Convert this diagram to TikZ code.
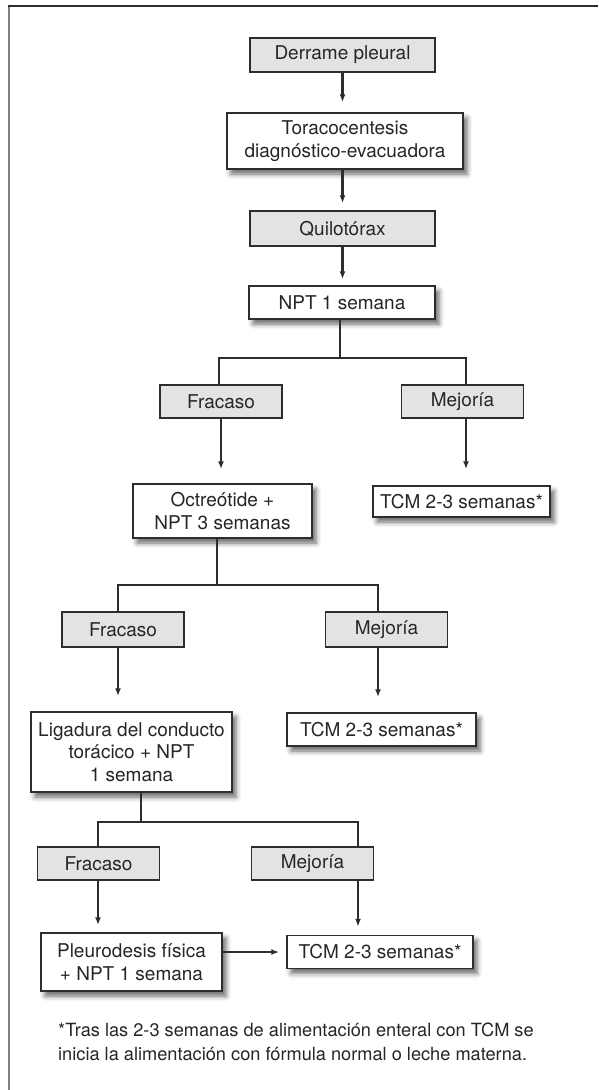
\documentclass[tikz,border=0pt]{standalone}
\usepackage{fontspec}
\setmainfont{TeX Gyre Heros}
\usetikzlibrary{arrows.meta,shadows.blur}
\definecolor{boxgray}{RGB}{227,227,227}
\definecolor{edgegray}{RGB}{45,45,45}

\begin{document}
\begin{tikzpicture}[x=1pt, y=-1pt, >={Latex[length=8pt,width=6pt]},
    box/.style={draw=edgegray, line width=1.5pt, inner sep=0pt, align=center,
        font=\fontsize{19}{22.5}\selectfont, text=black!85},
    graybox/.style={box, fill=boxgray, minimum width=122pt, minimum height=33pt},
    whitebox/.style={box, fill=white, blur shadow={shadow xshift=4pt,
        shadow yshift=-5pt, shadow blur radius=5pt, shadow opacity=60}},
    arr/.style={->, line width=2.4pt, draw=edgegray, shorten >=10pt},
    trunk/.style={line width=2.4pt, draw=edgegray},
    link/.style={line width=1.2pt, draw=edgegray}]
    \useasboundingbox (0,0) rectangle (598,1090);

    % frame
    \draw[line width=2.4pt, gray] (9,6) -- (9,1090);
    \draw[line width=1.8pt, edgegray] (8,6) -- (598,6);

    % main column
    \node[graybox, minimum width=185pt, minimum height=34pt] (derrame) at (342.5,55) {Derrame pleural};
    \node[whitebox, minimum width=236pt, minimum height=56pt] (toraco) at (345,141) {Toracocentesis\\diagnóstico-evacuadora};
    \node[graybox, minimum width=185pt, minimum height=35pt] (quilo) at (342.5,228.5) {Quilotórax};
    \node[whitebox, minimum width=186pt, minimum height=33pt] (npt) at (342,302.5) {NPT 1 semana};

    % first split
    \node[graybox] (fracA) at (221,401.5) {Fracaso};
    \node[graybox] (mejA) at (462.5,401.5) {Mejoría};
    \node[whitebox, minimum width=179pt, minimum height=54pt] (octreo) at (222.5,511) {Octreótide +\\NPT 3 semanas};
    \node[whitebox, minimum width=177pt, minimum height=31pt] (tcmA) at (461.5,501.5) {TCM 2-3 semanas*};

    % second split
    \node[graybox, minimum height=35pt] (fracB) at (123,629.5) {Fracaso};
    \node[graybox, minimum height=35pt] (mejB) at (386.5,629.5) {Mejoría};
    \node[whitebox, minimum width=201pt, minimum height=80pt] (ligad) at (131.5,752) {Ligadura del conducto\\torácico + NPT\\1 semana};
    \node[whitebox, minimum width=189pt, minimum height=33pt] (tcmB) at (381.5,729.5) {TCM 2-3 semanas*};

    % third split
    \node[graybox] (fracC) at (98.5,863.5) {Fracaso};
    \node[graybox] (mejC) at (312.5,863.5) {Mejoría};
    \node[whitebox, minimum width=181pt, minimum height=58pt] (pleuro) at (131.5,962) {Pleurodesis física\\+ NPT 1 semana};
    \node[whitebox, minimum width=186pt, minimum height=33pt] (tcmC) at (380,952) {TCM 2-3 semanas*};

    \node[anchor=north west, inner sep=0pt, align=left, text=black!85,
        font=\fontsize{18.2}{24}\selectfont] (nota) at (58,1023)
        {*Tras las 2-3 semanas de alimentación enteral con TCM se\\inicia la alimentación con fórmula normal o leche materna.};

    \coordinate (jA) at (340,358);
    \coordinate (jAl) at (219,358);
    \coordinate (jAr) at (466,358);
    \coordinate (jB) at (217,585);
    \coordinate (jBl) at (118,585);
    \coordinate (jBr) at (378,585);
    \coordinate (jC) at (141,822);
    \coordinate (jCl) at (98,822);
    \coordinate (jCr) at (358,822);

    \draw[arr] (derrame.south) -- (derrame.south |- toraco.north);
    \draw[arr, shorten >=7pt] (toraco.south -| quilo) -- (quilo.north);
    \draw[arr, shorten >=6pt] (quilo.south) -- (quilo.south |- npt.north);

    \draw[trunk] (npt.south -| jA) -- (jA);
    \draw[link] (fracA.north -| jAl) |- (jAr) -- (mejA.north -| jAr);
    \draw[arr, shorten >=14pt] (fracA.south) -- (fracA.south |- octreo.north);
    \draw[arr, shorten >=16pt] (mejA.south -| jAr) -- (tcmA.north -| jAr);

    \draw[trunk] (octreo.south -| jB) -- (jB);
    \draw[link] (fracB.north -| jBl) |- (jBr) -- (mejB.north -| jBr);
    \draw[arr, shorten >=15pt] (fracB.south -| jBl) -- (ligad.north -| jBl);
    \draw[arr, shorten >=15pt] (mejB.south -| jBr) -- (tcmB.north -| jBr);

    \draw[trunk] (ligad.south -| jC) -- (jC);
    \draw[link] (fracC.north -| jCl) |- (jCr) -- (mejC.north -| jCr);
    \draw[arr, shorten >=7pt] (fracC.south -| jCl) -- (pleuro.north -| jCl);
    \draw[arr, shorten >=8pt] (mejC.south -| jCr) -- (tcmC.north -| jCr);
    \draw[arr, shorten >=7pt] (pleuro.east |- tcmC) -- (tcmC.west);
\end{tikzpicture}
\end{document}
